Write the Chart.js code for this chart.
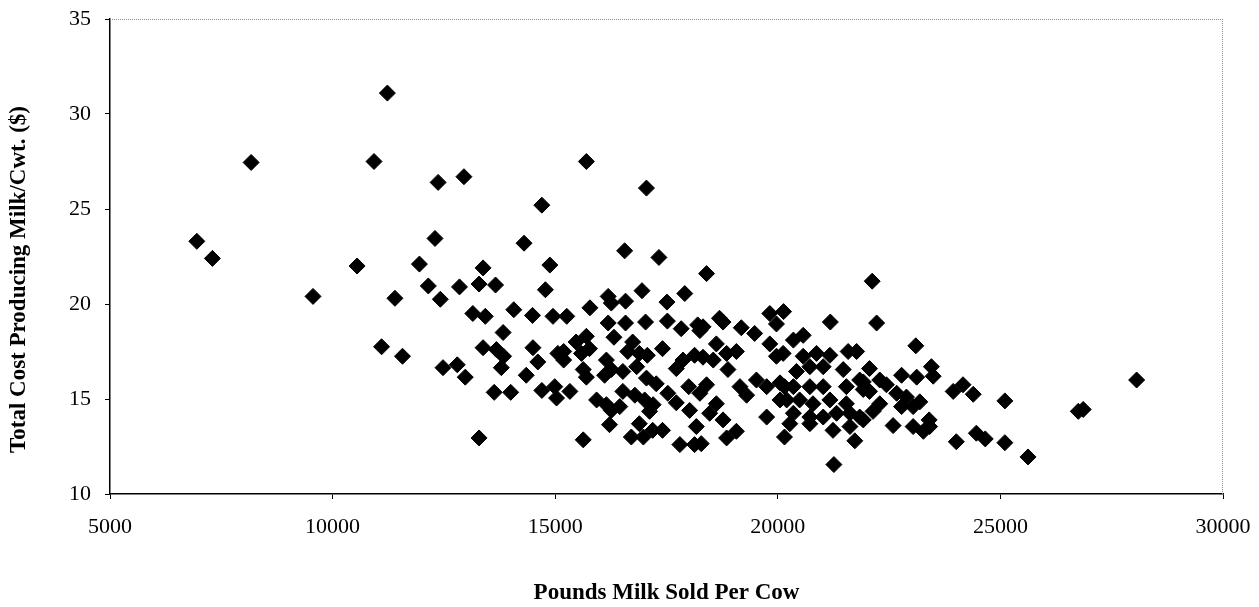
<!DOCTYPE html>
<html>
<head>
<meta charset="utf-8">
<script src="https://cdn.jsdelivr.net/npm/chart.js@4.4.1/dist/chart.umd.min.js"></script>
<style>
  html, body { margin: 0; padding: 0; background: #ffffff; }
  #wrap { width: 1259px; height: 607px; }
</style>
</head>
<body>
<div id="wrap"><canvas id="c" width="1259" height="607"></canvas></div>
<script>
// Pounds of milk sold per cow (x) and total cost producing milk per cwt in $ (y)
const milkSold = [
  6950, 7300, 8170, 9560, 10550, 10930, 11100, 11230, 11400, 11570,
  11950, 12150, 12300, 12370, 12420, 12480, 12800, 12850, 12950, 12980,
  13150, 13290, 13290, 13380, 13380, 13430, 13660, 13680, 13790, 13830,
  13840, 13630, 14000, 14070, 14300, 14350, 14490, 14500, 14610, 14700,
  14700, 14780, 14880, 14950, 14990, 15030, 15060, 15260, 15190, 15190,
  15330, 15470, 15590, 15630, 15630, 15700, 15700, 15700, 15770, 15780,
  15930, 16110, 16150, 16150, 16190, 16190, 16260, 16260, 16260, 16320,
  16220, 16450, 16520, 16520, 16560, 16580, 16580, 16710, 16740, 16630,
  16790, 16830, 16890, 16890, 16950, 17010, 16980, 17030, 17050, 17050,
  17070, 17120, 17190, 17200, 17270, 17330, 17410, 17410, 17510, 17520,
  17530, 17720, 17720, 17800, 17830, 17870, 17910, 18000, 18020, 18130,
  18130, 18170, 18200, 18250, 18250, 18280, 18320, 18320, 18400, 18400,
  18470, 18550, 18620, 18620, 18690, 18770, 18770, 18850, 18850, 18880,
  19070, 19070, 19150, 19180, 19300, 19480, 19520, 19750, 19750, 19820,
  19820, 19970, 19970, 20050, 20050, 20130, 20120, 20150, 20150, 20200,
  20270, 20350, 20350, 20350, 20420, 20490, 20570, 20570, 20720, 20720,
  20720, 20720, 20790, 20870, 21020, 21020, 21020, 21170, 21170, 21180,
  21240, 21260, 21320, 21470, 21540, 21540, 21580, 21620, 21620, 21730,
  21770, 21840, 21840, 21920, 21920, 21920, 22060, 22060, 22120, 22140,
  22220, 22290, 22290, 22440, 22590, 22670, 22780, 22780, 22890, 23040,
  23040, 23100, 23120, 23190, 23270, 23410, 23400, 23450, 23490, 23940,
  24010, 24160, 24390, 24460, 24660, 25100, 25100, 25620, 26750, 26860,
  28060
];
const costPerCwt = [
  23.3, 22.4, 27.45, 20.4, 22.0, 27.5, 17.75, 31.1, 20.3, 17.25,
  22.1, 20.95, 23.45, 26.4, 20.25, 16.65, 16.8, 20.9, 26.7, 16.15,
  19.5, 12.95, 21.05, 21.9, 17.7, 19.35, 21.0, 17.6, 16.65, 18.5,
  17.25, 15.35, 15.35, 19.7, 23.2, 16.25, 19.4, 17.7, 16.95, 15.45,
  25.2, 20.75, 22.05, 19.35, 15.65, 15.05, 17.4, 19.35, 17.5, 17.05,
  15.4, 18.0, 17.4, 16.55, 12.85, 27.5, 18.3, 16.15, 17.65, 19.8,
  14.95, 16.25, 17.05, 14.7, 20.4, 19.0, 20.05, 16.55, 14.4, 18.25,
  13.65, 14.6, 16.45, 15.4, 22.8, 20.15, 19.0, 13.0, 18.0, 17.5,
  15.2, 16.7, 17.4, 13.7, 20.7, 14.95, 13.0, 19.05, 26.1, 16.1,
  17.3, 14.35, 13.35, 14.7, 15.8, 22.45, 17.65, 13.35, 20.1, 19.1,
  15.3, 16.6, 14.8, 12.6, 18.7, 17.05, 20.55, 15.65, 14.4, 17.3,
  12.6, 13.55, 18.9, 18.6, 15.3, 12.65, 18.8, 17.2, 21.6, 15.75,
  14.25, 17.05, 17.9, 14.75, 19.25, 19.05, 13.9, 17.4, 12.95, 16.55,
  17.5, 13.3, 15.65, 18.75, 15.2, 18.45, 16.0, 15.65, 14.05, 19.5,
  17.9, 18.95, 17.25, 15.85, 14.95, 19.6, 17.4, 13.0, 15.65, 14.95,
  13.7, 18.1, 15.65, 14.25, 16.45, 14.95, 18.35, 17.25, 16.7, 15.65,
  14.05, 13.7, 14.75, 17.4, 16.7, 15.65, 14.05, 17.3, 14.95, 19.05,
  13.35, 11.55, 14.25, 16.55, 15.65, 14.75, 17.5, 14.25, 13.55, 12.8,
  17.5, 16.0, 14.05, 15.5, 13.9, 15.9, 16.6, 15.4, 21.2, 14.35,
  19.0, 16.0, 14.75, 15.75, 13.6, 15.3, 16.25, 14.6, 15.1, 14.6,
  13.55, 17.8, 16.15, 14.85, 13.3, 13.55, 13.9, 16.7, 16.2, 15.4,
  12.75, 15.75, 15.25, 13.2, 12.9, 14.9, 12.7, 11.95, 14.35, 14.45,
  16.0
];
const xTickValues = [5000, 10000, 15000, 20000, 25000, 30000];
const yTickValues = [10, 15, 20, 25, 30, 35];

const points = milkSold.map((x, i) => ({ x: x, y: costPerCwt[i] }));

const frameLines = {
  id: 'frameLines',
  afterDatasetsDraw(chart) {
    const { ctx, chartArea: a } = chart;
    ctx.save();
    ctx.strokeStyle = '#8a8a8a';
    ctx.lineWidth = 1;
    ctx.setLineDash([1, 1]);
    ctx.beginPath();
    ctx.moveTo(a.left, a.top + 0.5);
    ctx.lineTo(a.right, a.top + 0.5);
    ctx.moveTo(a.right - 0.5, a.top);
    ctx.lineTo(a.right - 0.5, a.bottom);
    ctx.stroke();
    ctx.restore();
  }
};

const serif = "'Liberation Serif', 'Times New Roman', serif";

new Chart(document.getElementById('c'), {
  type: 'scatter',
  data: {
    datasets: [{
      data: points,
      pointStyle: 'rectRot',
      pointRadius: 8,
      pointHoverRadius: 8,
      backgroundColor: '#000000',
      borderColor: '#000000',
      borderWidth: 1
    }]
  },
  options: {
    responsive: false,
    animation: false,
    devicePixelRatio: 1,
    layout: { padding: { top: 19, right: 36, left: 0, bottom: 0 } },
    plugins: { legend: { display: false }, tooltip: { enabled: false } },
    scales: {
      x: {
        type: 'linear',
        min: 5000,
        max: 30000,
        afterBuildTicks: s => { s.ticks = xTickValues.map(v => ({ value: v })); },
        afterFit: s => { s.height = 113; s.paddingLeft = 0; s.paddingRight = 0; },
        ticks: {
          color: '#000',
          font: { family: serif, size: 22 },
          padding: 15,
          maxRotation: 0,
          callback: v => String(v)
        },
        grid: { drawOnChartArea: false, drawTicks: true, tickLength: 5, color: '#000' },
        border: { display: true, color: '#000', width: 1.5 },
        title: {
          display: true,
          text: 'Pounds Milk Sold Per Cow',
          color: '#000',
          font: { family: serif, size: 23, weight: 'bold' },
          padding: { top: 0, bottom: 0 }
        }
      },
      y: {
        type: 'linear',
        min: 10,
        max: 35,
        afterBuildTicks: s => { s.ticks = yTickValues.map(v => ({ value: v })); },
        afterFit: s => { s.width = 110; s.paddingTop = 0; s.paddingBottom = 0; },
        ticks: {
          color: '#000',
          font: { family: serif, size: 22 },
          padding: 14,
          callback: v => String(v)
        },
        grid: { drawOnChartArea: false, drawTicks: true, tickLength: 5, color: '#000' },
        border: { display: true, color: '#000', width: 1.5 },
        title: {
          display: true,
          text: 'Total Cost Producing Milk/Cwt. ($)        ',
          color: '#000',
          font: { family: serif, size: 23, weight: 'bold' },
          padding: { top: 5, bottom: 0 }
        }
      }
    }
  },
  plugins: [frameLines]
});
</script>
</body>
</html>
